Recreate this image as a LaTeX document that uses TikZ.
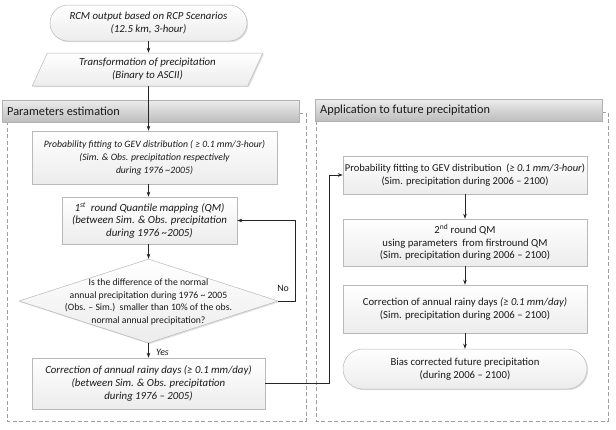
\documentclass[tikz,border=0pt]{standalone}
\usepackage{fontspec}
\setmainfont{Carlito}
\usetikzlibrary{arrows.meta,shadows,shapes.geometric}
\newcommand{\tl}{\textasciitilde}
\newcommand{\fs}[1]{\fontsize{#1}{12.8}\selectfont}
\tikzset{
  base/.style={font=\fs{9.7}, text=black!90, align=center, inner sep=0pt},
  stepbox/.style={base, draw=gray!55, line width=0.5pt, top color=white, bottom color=gray!15,
    drop shadow={opacity=0.25, shadow xshift=1.2pt, shadow yshift=-1.2pt}},
  termbox/.style={stepbox, rounded corners=18pt},
  barbox/.style={draw=gray!60, line width=0.5pt, top color=gray!15, bottom color=gray!52,
    drop shadow={opacity=0.3, shadow xshift=1.2pt, shadow yshift=-1.2pt},
    inner sep=0pt, minimum height=22pt},
  bartext/.style={anchor=west, inner sep=0pt, text=black!90, font=\fontsize{12.3}{14}\selectfont},
  conn/.style={draw=black!85, line width=0.7pt, -{Stealth[length=5pt,width=3.6pt]}},
  frame/.style={draw=gray!75, line width=0.7pt, dash pattern=on 4pt off 2.5pt},
  lbl/.style={font=\fontsize{9.8}{11}\selectfont, text=black!90, inner sep=0pt}
}
\begin{document}
\begin{tikzpicture}[x=1pt,y=-1pt]
\useasboundingbox (0,0) rectangle (616,429);

% frames
\draw[frame] (299,113) -- (306,113) -- (306,421) -- (7,421) -- (7,122);
\draw[frame] (602,112) -- (608,112) -- (608,421) -- (316,421) -- (316,122);

% bars
\node[barbox, minimum width=297pt, anchor=north west] (barL) at (2,100) {};
\node[bartext] (barLt) at (7,111) {Parameters estimation};
\node[barbox, minimum width=287pt, anchor=north west] (barR) at (315,99) {};
\node[bartext] (barRt) at (320,110) {Application to future precipitation};

% top
\node[termbox, font=\fs{10.8}, minimum width=197pt, minimum height=36pt] (rcm) at (148.5,23)
  {\itshape RCM output based on RCP Scenarios\\\itshape (12.5 km, 3-hour)};
\node[stepbox, font=\fs{10.8}, trapezium, trapezium left angle=65, trapezium right angle=115, trapezium stretches=true,
  minimum width=231pt, minimum height=33pt] (trans) at (147.5,69.5)
  {\itshape Transformation of precipitation\\\itshape (Binary to ASCII)};

% left column
\node[stepbox, minimum width=245pt, minimum height=53pt] (fit1) at (154.5,157.5)
  {\itshape Probability fitting to GEV distribution ( ≥ 0.1 mm/3-hour)\\
   \itshape (Sim. \& Obs. precipitation respectively\\
   \itshape during 1976 \tl2005)};
\node[stepbox, font=\fs{10.9}, minimum width=175pt, minimum height=47pt] (qm1) at (149.5,220.5)
  {\itshape 1\textsuperscript{st}\ \ round Quantile mapping (QM)\\
   \itshape (between Sim. \& Obs. precipitation\\
   \itshape during 1976 \tl2005)};
\node[diamond, draw=gray!55, line width=0.5pt, top color=white, bottom color=gray!15,
  drop shadow={opacity=0.25, shadow xshift=1.2pt, shadow yshift=-1.2pt},
  minimum width=259pt, minimum height=84pt, inner sep=0pt, aspect=3] (dia) at (148.5,301) {};
\node[base] (diat) at (148.5,302)
  {Is the difference of the normal\\
   annual precipitation during 1976 \tl\ 2005\\
   (Obs. – Sim.)\ \ smaller than 10\% of the obs.\\
   normal annual precipitation?};
\node[stepbox, font=\fs{10.8}, minimum width=233pt, minimum height=51pt] (corr) at (148.5,383.5)
  {\itshape Correction of annual rainy days (≥ 0.1 mm/day)\\
   \itshape (between Sim. \& Obs. precipitation\\
   \itshape during 1976 – 2005)};
\node[lbl, anchor=west] (yes) at (156,352) {\itshape Yes};
\node[lbl] (no) at (283,288) {No};

% right column
\node[stepbox, font=\fs{10.5}, minimum width=244pt, minimum height=38pt] (fit2) at (465,175)
  {Probability fitting to GEV distribution\ \ (\textit{≥ 0.1 mm/3-hour})\\
   (Sim. precipitation during 2006 – 2100)};
\node[stepbox, font=\fs{10.7}, minimum width=244pt, minimum height=47pt] (qm2) at (465,242.5)
  {2\textsuperscript{nd} round QM\\
   using parameters\ \ from firstround QM\\
   (Sim. precipitation during 2006 – 2100)};
\node[stepbox, font=\fs{10.7}, minimum width=244pt, minimum height=48pt] (corr2) at (465,309)
  {Correction of annual rainy days \textit{(≥ 0.1 mm/day)}\\
   (Sim. precipitation during 2006 – 2100)};
\node[termbox, font=\fs{10.7}, rounded corners=20pt, minimum width=244pt, minimum height=40pt] (bias) at (465,369)
  {Bias corrected future precipitation\\
   (during 2006 – 2100)};

% connectors
\coordinate (axis) at (148.5,0);
\coordinate (nofb) at (295,301);
\coordinate (jx) at (329,383.5);
\draw[conn] (rcm.south) -- (trans.north -| rcm.south);
\draw[conn] (trans.south -| axis) -- (fit1.north -| axis);
\draw[conn] (fit1.south -| axis) -- (qm1.north -| axis);
\draw[conn] (qm1.south -| axis) -- (dia.north);
\draw[conn] (dia.south) -- (corr.north -| dia.south);
\draw[conn] (dia.east) -- (nofb) |- (qm1.east);
\draw[conn] (corr.east) -- (jx) |- (fit2.west);
\draw[conn] (fit2.south) -- (qm2.north);
\draw[conn] (qm2.south) -- (corr2.north);
\draw[conn] (corr2.south) -- (bias.north);
\end{tikzpicture}
\end{document}
